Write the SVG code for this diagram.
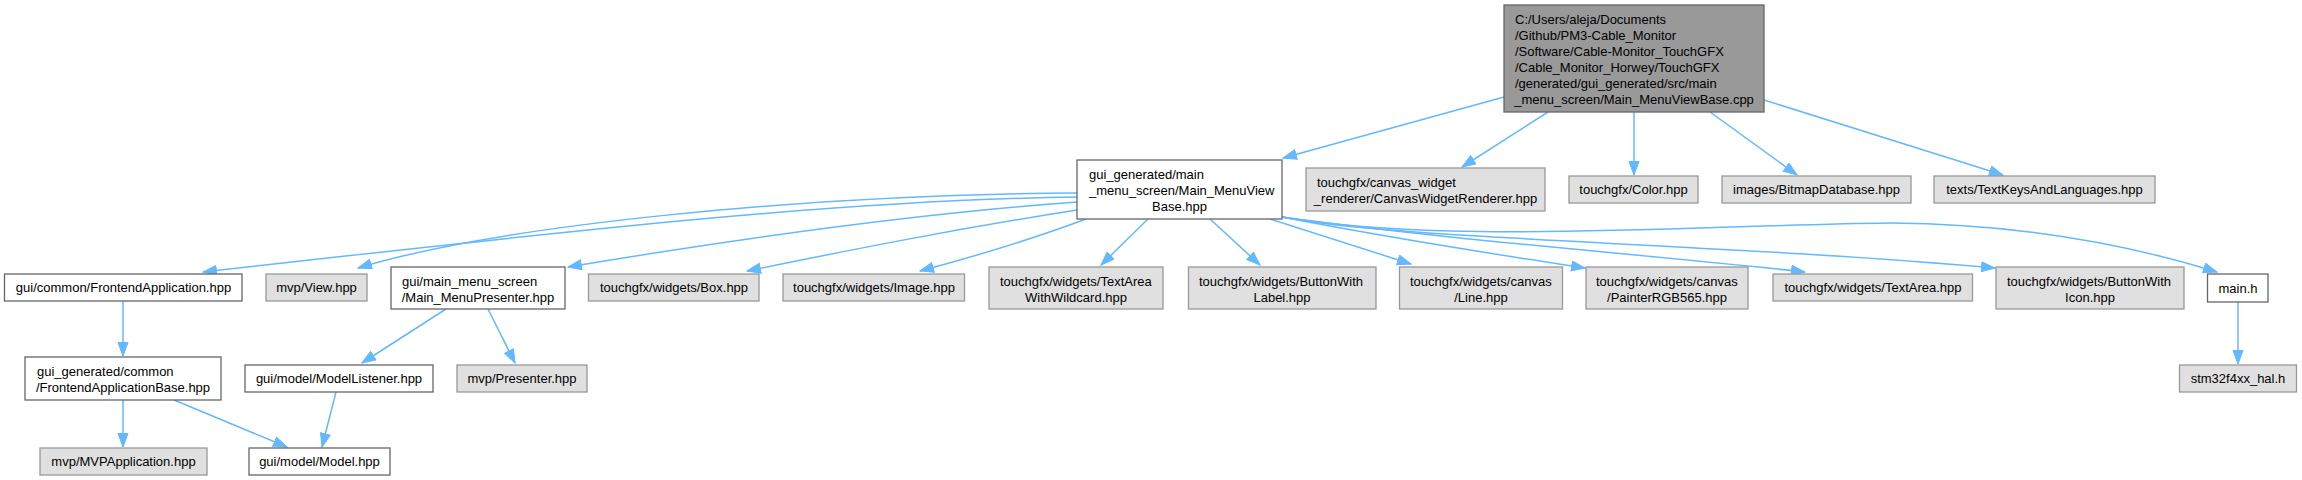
<svg xmlns="http://www.w3.org/2000/svg" width="2302" height="480" viewBox="0 0 2302 480">
<defs>
<style>
text{font-family:"Liberation Sans",Arial,sans-serif;font-size:13px;fill:#000}
.c{text-anchor:middle}
.g{fill:#e0e0e0;stroke:#999999;stroke-width:1.3}
.w{fill:#ffffff;stroke:#666666;stroke-width:1.3}
.m{fill:#999999;stroke:#666666;stroke-width:1.3}
.e{fill:none;stroke:#63b8ff;stroke-width:1.5}
</style>
<marker id="a" markerUnits="userSpaceOnUse" markerWidth="15" markerHeight="12" refX="14" refY="5.5" orient="auto" viewBox="0 0 15 12">
<path d="M0.5,0.5 L14,5.5 L0.5,10.5 z" fill="#63b8ff" stroke="#63b8ff" stroke-width="1"/>
</marker>
</defs>
<rect width="2302" height="480" fill="#ffffff"/>
<g id="edges" marker-end="url(#a)">
<path class="e" d="M1504,97 L1283,158"/>
<path class="e" d="M1548,112 L1462,167"/>
<path class="e" d="M1634,112 L1634,175"/>
<path class="e" d="M1710,112 L1797,175"/>
<path class="e" d="M1764,100 L2003,175"/>
<path class="e" d="M1077,197 C850,200 600,227 203,272"/>
<path class="e" d="M1077,193 C800,195 500,225 358,268"/>
<path class="e" d="M1077,202 C900,215 700,245 568,267"/>
<path class="e" d="M1077,210 C950,230 850,250 747,271"/>
<path class="e" d="M1086,219 C1030,240 980,255 920,271"/>
<path class="e" d="M1148,219 L1101,265"/>
<path class="e" d="M1210,219 L1260,265"/>
<path class="e" d="M1270,219 L1411,264"/>
<path class="e" d="M1282,217 C1400,240 1500,255 1585,268"/>
<path class="e" d="M1282,217 C1450,240 1650,255 1805,272"/>
<path class="e" d="M1282,217 C1400,240 1700,242 1995,268"/>
<path class="e" d="M1282,217 C1450,245 1700,225 1891,223 C2020,224 2130,245 2217,272"/>
<path class="e" d="M2238,302 L2238,364"/>
<path class="e" d="M123,301 L123,356"/>
<path class="e" d="M123,400 L123,447"/>
<path class="e" d="M174,400 L287,447"/>
<path class="e" d="M446,309 L362,363"/>
<path class="e" d="M488,309 L515,363"/>
<path class="e" d="M336,392 L322,447"/>
</g>
<g id="n_main"><rect class="m" x="1504" y="5" width="260" height="107"/>
<text x="1515" y="23.5">C:/Users/aleja/Documents</text>
<text x="1515" y="39.5">/Github/PM3-Cable_Monitor</text>
<text x="1515" y="55.5">/Software/Cable-Monitor_TouchGFX</text>
<text x="1515" y="71.5">/Cable_Monitor_Horwey/TouchGFX</text>
<text x="1515" y="87.5">/generated/gui_generated/src/main</text>
<text class="c" x="1634" y="103.5">_menu_screen/Main_MenuViewBase.cpp</text></g>
<g id="n_viewbase"><rect class="w" x="1077" y="160" width="205" height="59"/>
<text x="1089" y="178.5">gui_generated/main</text>
<text x="1089" y="194.5">_menu_screen/Main_MenuView</text>
<text class="c" x="1179.5" y="210.5">Base.hpp</text></g>
<g id="n_cwr"><rect class="g" x="1306" y="168" width="239" height="43"/>
<text x="1317" y="186.5">touchgfx/canvas_widget</text>
<text class="c" x="1425.5" y="202.5">_renderer/CanvasWidgetRenderer.hpp</text></g>
<g id="n_color"><rect class="g" x="1569" y="176" width="129" height="27"/>
<text class="c" x="1633.5" y="194">touchgfx/Color.hpp</text></g>
<g id="n_bitmap"><rect class="g" x="1722" y="176" width="189" height="27"/>
<text class="c" x="1816.5" y="194">images/BitmapDatabase.hpp</text></g>
<g id="n_textkeys"><rect class="g" x="1934" y="176" width="221" height="27"/>
<text class="c" x="2044.5" y="194">texts/TextKeysAndLanguages.hpp</text></g>
<g id="n_frontapp"><rect class="w" x="4.5" y="274" width="237.5" height="27"/>
<text class="c" x="123.5" y="292">gui/common/FrontendApplication.hpp</text></g>
<g id="n_view"><rect class="g" x="266" y="274" width="101" height="27"/>
<text class="c" x="316.5" y="292">mvp/View.hpp</text></g>
<g id="n_presenter"><rect class="w" x="391" y="267" width="174" height="42"/>
<text x="402" y="285.5">gui/main_menu_screen</text>
<text class="c" x="478" y="301.5">/Main_MenuPresenter.hpp</text></g>
<g id="n_box"><rect class="g" x="588.5" y="274" width="170.5" height="27"/>
<text class="c" x="674" y="292">touchgfx/widgets/Box.hpp</text></g>
<g id="n_image"><rect class="g" x="783" y="274" width="181.5" height="27"/>
<text class="c" x="874" y="292">touchgfx/widgets/Image.hpp</text></g>
<g id="n_tawild"><rect class="g" x="989" y="267" width="174" height="42"/>
<text x="1000" y="285.5">touchgfx/widgets/TextArea</text>
<text class="c" x="1076" y="301.5">WithWildcard.hpp</text></g>
<g id="n_bwl"><rect class="g" x="1188.5" y="267" width="187.5" height="42"/>
<text x="1199" y="285.5">touchgfx/widgets/ButtonWith</text>
<text class="c" x="1282" y="301.5">Label.hpp</text></g>
<g id="n_line"><rect class="g" x="1399.5" y="267" width="163" height="42"/>
<text x="1410" y="285.5">touchgfx/widgets/canvas</text>
<text class="c" x="1481" y="301.5">/Line.hpp</text></g>
<g id="n_painter"><rect class="g" x="1586" y="267" width="162" height="42"/>
<text x="1596" y="285.5">touchgfx/widgets/canvas</text>
<text class="c" x="1667" y="301.5">/PainterRGB565.hpp</text></g>
<g id="n_textarea"><rect class="g" x="1773" y="274" width="199.5" height="27"/>
<text class="c" x="1873" y="292">touchgfx/widgets/TextArea.hpp</text></g>
<g id="n_bwi"><rect class="g" x="1996" y="267" width="188" height="42"/>
<text x="2007" y="285.5">touchgfx/widgets/ButtonWith</text>
<text class="c" x="2090" y="301.5">Icon.hpp</text></g>
<g id="n_mainh"><rect class="w" x="2207.5" y="274" width="60.5" height="28"/>
<text class="c" x="2238" y="292.5">main.h</text></g>
<g id="n_stm32"><rect class="g" x="2179.5" y="365" width="117" height="27"/>
<text class="c" x="2238" y="383">stm32f4xx_hal.h</text></g>
<g id="n_frontbase"><rect class="w" x="25" y="357" width="196" height="43"/>
<text x="37" y="375.5">gui_generated/common</text>
<text class="c" x="123" y="391.5">/FrontendApplicationBase.hpp</text></g>
<g id="n_modellistener"><rect class="w" x="245" y="365" width="188" height="27"/>
<text class="c" x="339" y="383">gui/model/ModelListener.hpp</text></g>
<g id="n_mvppresenter"><rect class="g" x="457" y="365" width="130" height="27"/>
<text class="c" x="522" y="383">mvp/Presenter.hpp</text></g>
<g id="n_mvpapp"><rect class="g" x="40" y="448" width="167" height="27"/>
<text class="c" x="123.5" y="466">mvp/MVPApplication.hpp</text></g>
<g id="n_model"><rect class="w" x="249" y="448" width="141" height="27"/>
<text class="c" x="319.5" y="466">gui/model/Model.hpp</text></g>
</svg>
